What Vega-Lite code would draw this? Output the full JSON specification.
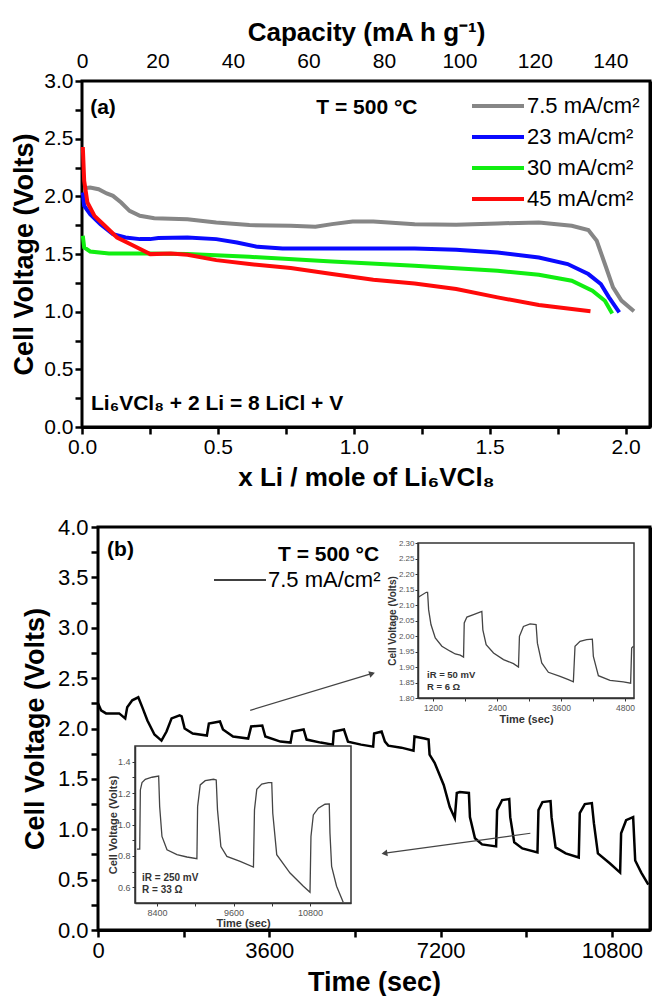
{
  "$schema": "https://vega.github.io/schema/vega-lite/v6.json",
  "padding": 0,
  "autosize": {"type": "pad"},
  "spacing": 0,
  "bounds": "flush",
  "config": {
    "view": {"strokeWidth": 0},
    "axis": {
      "grid": false,
      "zindex": 1,
      "domainColor": "#000",
      "domainWidth": 3,
      "tickColor": "#000",
      "tickWidth": 2.5,
      "labelFont": "Liberation Sans",
      "titleFont": "Liberation Sans",
      "labelColor": "black",
      "titleColor": "black",
      "titleFontWeight": "bold",
      "labelFlush": false,
      "labelOverlap": false
    }
  },
  "datasets": {
    "panelA": [
      {"x": 0.008, "v": 2.07, "rate": "7.5 mA/cm²"},
      {"x": 0.03, "v": 2.077, "rate": "7.5 mA/cm²"},
      {"x": 0.061, "v": 2.062, "rate": "7.5 mA/cm²"},
      {"x": 0.091, "v": 2.025, "rate": "7.5 mA/cm²"},
      {"x": 0.114, "v": 2.004, "rate": "7.5 mA/cm²"},
      {"x": 0.144, "v": 1.946, "rate": "7.5 mA/cm²"},
      {"x": 0.175, "v": 1.874, "rate": "7.5 mA/cm²"},
      {"x": 0.213, "v": 1.831, "rate": "7.5 mA/cm²"},
      {"x": 0.266, "v": 1.811, "rate": "7.5 mA/cm²"},
      {"x": 0.388, "v": 1.802, "rate": "7.5 mA/cm²"},
      {"x": 0.494, "v": 1.774, "rate": "7.5 mA/cm²"},
      {"x": 0.616, "v": 1.751, "rate": "7.5 mA/cm²"},
      {"x": 0.768, "v": 1.745, "rate": "7.5 mA/cm²"},
      {"x": 0.859, "v": 1.736, "rate": "7.5 mA/cm²"},
      {"x": 0.92, "v": 1.759, "rate": "7.5 mA/cm²"},
      {"x": 0.996, "v": 1.782, "rate": "7.5 mA/cm²"},
      {"x": 1.072, "v": 1.782, "rate": "7.5 mA/cm²"},
      {"x": 1.224, "v": 1.759, "rate": "7.5 mA/cm²"},
      {"x": 1.377, "v": 1.753, "rate": "7.5 mA/cm²"},
      {"x": 1.529, "v": 1.765, "rate": "7.5 mA/cm²"},
      {"x": 1.681, "v": 1.774, "rate": "7.5 mA/cm²"},
      {"x": 1.802, "v": 1.745, "rate": "7.5 mA/cm²"},
      {"x": 1.863, "v": 1.707, "rate": "7.5 mA/cm²"},
      {"x": 1.894, "v": 1.615, "rate": "7.5 mA/cm²"},
      {"x": 1.924, "v": 1.413, "rate": "7.5 mA/cm²"},
      {"x": 1.954, "v": 1.211, "rate": "7.5 mA/cm²"},
      {"x": 1.985, "v": 1.096, "rate": "7.5 mA/cm²"},
      {"x": 2.031, "v": 1.003, "rate": "7.5 mA/cm²"},
      {"x": 0.003, "v": 2.033, "rate": "23 mA/cm²"},
      {"x": 0.008, "v": 1.918, "rate": "23 mA/cm²"},
      {"x": 0.03, "v": 1.846, "rate": "23 mA/cm²"},
      {"x": 0.068, "v": 1.759, "rate": "23 mA/cm²"},
      {"x": 0.114, "v": 1.672, "rate": "23 mA/cm²"},
      {"x": 0.16, "v": 1.643, "rate": "23 mA/cm²"},
      {"x": 0.213, "v": 1.629, "rate": "23 mA/cm²"},
      {"x": 0.251, "v": 1.629, "rate": "23 mA/cm²"},
      {"x": 0.281, "v": 1.638, "rate": "23 mA/cm²"},
      {"x": 0.388, "v": 1.643, "rate": "23 mA/cm²"},
      {"x": 0.494, "v": 1.629, "rate": "23 mA/cm²"},
      {"x": 0.57, "v": 1.6, "rate": "23 mA/cm²"},
      {"x": 0.646, "v": 1.562, "rate": "23 mA/cm²"},
      {"x": 0.738, "v": 1.548, "rate": "23 mA/cm²"},
      {"x": 0.92, "v": 1.548, "rate": "23 mA/cm²"},
      {"x": 1.224, "v": 1.548, "rate": "23 mA/cm²"},
      {"x": 1.377, "v": 1.536, "rate": "23 mA/cm²"},
      {"x": 1.529, "v": 1.513, "rate": "23 mA/cm²"},
      {"x": 1.681, "v": 1.47, "rate": "23 mA/cm²"},
      {"x": 1.787, "v": 1.413, "rate": "23 mA/cm²"},
      {"x": 1.863, "v": 1.326, "rate": "23 mA/cm²"},
      {"x": 1.909, "v": 1.24, "rate": "23 mA/cm²"},
      {"x": 1.939, "v": 1.124, "rate": "23 mA/cm²"},
      {"x": 1.977, "v": 0.994, "rate": "23 mA/cm²"},
      {"x": 0.003, "v": 1.658, "rate": "30 mA/cm²"},
      {"x": 0.008, "v": 1.557, "rate": "30 mA/cm²"},
      {"x": 0.03, "v": 1.522, "rate": "30 mA/cm²"},
      {"x": 0.099, "v": 1.505, "rate": "30 mA/cm²"},
      {"x": 0.236, "v": 1.505, "rate": "30 mA/cm²"},
      {"x": 0.388, "v": 1.499, "rate": "30 mA/cm²"},
      {"x": 0.616, "v": 1.476, "rate": "30 mA/cm²"},
      {"x": 0.92, "v": 1.436, "rate": "30 mA/cm²"},
      {"x": 1.224, "v": 1.398, "rate": "30 mA/cm²"},
      {"x": 1.529, "v": 1.355, "rate": "30 mA/cm²"},
      {"x": 1.681, "v": 1.32, "rate": "30 mA/cm²"},
      {"x": 1.802, "v": 1.268, "rate": "30 mA/cm²"},
      {"x": 1.878, "v": 1.182, "rate": "30 mA/cm²"},
      {"x": 1.924, "v": 1.095, "rate": "30 mA/cm²"},
      {"x": 1.951, "v": 0.985, "rate": "30 mA/cm²"},
      {"x": 0.003, "v": 2.428, "rate": "45 mA/cm²"},
      {"x": 0.008, "v": 2.135, "rate": "45 mA/cm²"},
      {"x": 0.02, "v": 1.946, "rate": "45 mA/cm²"},
      {"x": 0.046, "v": 1.831, "rate": "45 mA/cm²"},
      {"x": 0.084, "v": 1.745, "rate": "45 mA/cm²"},
      {"x": 0.129, "v": 1.643, "rate": "45 mA/cm²"},
      {"x": 0.19, "v": 1.571, "rate": "45 mA/cm²"},
      {"x": 0.251, "v": 1.499, "rate": "45 mA/cm²"},
      {"x": 0.327, "v": 1.505, "rate": "45 mA/cm²"},
      {"x": 0.388, "v": 1.493, "rate": "45 mA/cm²"},
      {"x": 0.494, "v": 1.447, "rate": "45 mA/cm²"},
      {"x": 0.616, "v": 1.413, "rate": "45 mA/cm²"},
      {"x": 0.768, "v": 1.378, "rate": "45 mA/cm²"},
      {"x": 0.92, "v": 1.326, "rate": "45 mA/cm²"},
      {"x": 1.072, "v": 1.277, "rate": "45 mA/cm²"},
      {"x": 1.224, "v": 1.245, "rate": "45 mA/cm²"},
      {"x": 1.377, "v": 1.196, "rate": "45 mA/cm²"},
      {"x": 1.529, "v": 1.124, "rate": "45 mA/cm²"},
      {"x": 1.681, "v": 1.058, "rate": "45 mA/cm²"},
      {"x": 1.871, "v": 1.003, "rate": "45 mA/cm²"}
    ],
    "panelB": [
      {"t": 0, "v": 2.25}, {"t": 64, "v": 2.18}, {"t": 169, "v": 2.15}, {"t": 297, "v": 2.15},
      {"t": 445, "v": 2.15}, {"t": 572, "v": 2.1}, {"t": 614, "v": 2.21}, {"t": 720, "v": 2.28},
      {"t": 847, "v": 2.31}, {"t": 932, "v": 2.21}, {"t": 1038, "v": 2.08}, {"t": 1186, "v": 1.94},
      {"t": 1334, "v": 1.88}, {"t": 1440, "v": 1.97}, {"t": 1546, "v": 2.1}, {"t": 1715, "v": 2.13},
      {"t": 1758, "v": 2.12}, {"t": 1821, "v": 2.0}, {"t": 1991, "v": 1.95}, {"t": 2288, "v": 1.93},
      {"t": 2330, "v": 2.05}, {"t": 2563, "v": 2.07}, {"t": 2626, "v": 1.99}, {"t": 2838, "v": 1.92},
      {"t": 3156, "v": 1.9}, {"t": 3219, "v": 2.02}, {"t": 3452, "v": 2.03}, {"t": 3516, "v": 1.92},
      {"t": 3834, "v": 1.87}, {"t": 4046, "v": 1.86}, {"t": 4088, "v": 1.97}, {"t": 4321, "v": 1.99},
      {"t": 4384, "v": 1.89}, {"t": 4680, "v": 1.86}, {"t": 4935, "v": 1.84}, {"t": 4956, "v": 1.97},
      {"t": 5168, "v": 1.99}, {"t": 5253, "v": 1.87}, {"t": 5528, "v": 1.84}, {"t": 5782, "v": 1.82},
      {"t": 5803, "v": 1.95}, {"t": 5960, "v": 1.97}, {"t": 6030, "v": 1.87}, {"t": 6100, "v": 1.83},
      {"t": 6375, "v": 1.81}, {"t": 6630, "v": 1.78}, {"t": 6651, "v": 1.92}, {"t": 6863, "v": 1.9},
      {"t": 6947, "v": 1.89}, {"t": 6968, "v": 1.74}, {"t": 7074, "v": 1.66}, {"t": 7265, "v": 1.44},
      {"t": 7392, "v": 1.22}, {"t": 7498, "v": 1.11}, {"t": 7540, "v": 1.36}, {"t": 7604, "v": 1.37},
      {"t": 7794, "v": 1.36}, {"t": 7816, "v": 1.12}, {"t": 7922, "v": 0.91}, {"t": 8070, "v": 0.85},
      {"t": 8366, "v": 0.83}, {"t": 8387, "v": 1.19}, {"t": 8493, "v": 1.29}, {"t": 8642, "v": 1.3},
      {"t": 8663, "v": 1.12}, {"t": 8747, "v": 0.87}, {"t": 8917, "v": 0.81}, {"t": 9235, "v": 0.77},
      {"t": 9256, "v": 1.19}, {"t": 9340, "v": 1.27}, {"t": 9510, "v": 1.28}, {"t": 9531, "v": 1.12},
      {"t": 9616, "v": 0.82}, {"t": 9828, "v": 0.76}, {"t": 10103, "v": 0.72}, {"t": 10124, "v": 1.16},
      {"t": 10230, "v": 1.25}, {"t": 10378, "v": 1.26}, {"t": 10421, "v": 1.06}, {"t": 10505, "v": 0.76},
      {"t": 10760, "v": 0.66}, {"t": 10972, "v": 0.57}, {"t": 10993, "v": 0.96}, {"t": 11098, "v": 1.09},
      {"t": 11246, "v": 1.12}, {"t": 11289, "v": 0.69}, {"t": 11416, "v": 0.57}, {"t": 11565, "v": 0.45}
    ],
    "inset1": [
      {"t": 932, "v": 2.126}, {"t": 1075, "v": 2.141}, {"t": 1100, "v": 2.141}, {"t": 1119, "v": 2.085},
      {"t": 1163, "v": 2.037}, {"t": 1244, "v": 1.994}, {"t": 1368, "v": 1.967}, {"t": 1524, "v": 1.951},
      {"t": 1618, "v": 1.942}, {"t": 1712, "v": 1.938}, {"t": 1774, "v": 1.932}, {"t": 1787, "v": 2.042},
      {"t": 1837, "v": 2.061}, {"t": 1961, "v": 2.069}, {"t": 2117, "v": 2.079}, {"t": 2136, "v": 2.02},
      {"t": 2198, "v": 1.972}, {"t": 2336, "v": 1.945}, {"t": 2523, "v": 1.924}, {"t": 2710, "v": 1.911},
      {"t": 2804, "v": 1.9}, {"t": 2822, "v": 1.999}, {"t": 2897, "v": 2.031}, {"t": 3022, "v": 2.039},
      {"t": 3134, "v": 2.037}, {"t": 3159, "v": 1.977}, {"t": 3240, "v": 1.913}, {"t": 3365, "v": 1.883},
      {"t": 3584, "v": 1.87}, {"t": 3740, "v": 1.859}, {"t": 3833, "v": 1.852}, {"t": 3864, "v": 1.967},
      {"t": 3958, "v": 1.983}, {"t": 4083, "v": 1.988}, {"t": 4189, "v": 1.99}, {"t": 4208, "v": 1.934},
      {"t": 4302, "v": 1.872}, {"t": 4520, "v": 1.857}, {"t": 4770, "v": 1.852}, {"t": 4907, "v": 1.848},
      {"t": 4926, "v": 1.961}, {"t": 4960, "v": 1.967}
    ],
    "inset2": [
      {"t": 8087, "v": 0.843}, {"t": 8129, "v": 0.843}, {"t": 8139, "v": 1.22}, {"t": 8165, "v": 1.267},
      {"t": 8217, "v": 1.288}, {"t": 8322, "v": 1.301}, {"t": 8426, "v": 1.309}, {"t": 8442, "v": 1.114},
      {"t": 8478, "v": 0.924}, {"t": 8557, "v": 0.839}, {"t": 8713, "v": 0.808}, {"t": 8870, "v": 0.793},
      {"t": 9026, "v": 0.782}, {"t": 9037, "v": 1.114}, {"t": 9078, "v": 1.252}, {"t": 9156, "v": 1.279},
      {"t": 9287, "v": 1.288}, {"t": 9329, "v": 1.284}, {"t": 9349, "v": 1.093}, {"t": 9402, "v": 0.86},
      {"t": 9496, "v": 0.797}, {"t": 9704, "v": 0.765}, {"t": 9913, "v": 0.729}, {"t": 9929, "v": 1.093},
      {"t": 9965, "v": 1.224}, {"t": 10043, "v": 1.258}, {"t": 10148, "v": 1.267}, {"t": 10200, "v": 1.267},
      {"t": 10216, "v": 1.072}, {"t": 10278, "v": 0.808}, {"t": 10487, "v": 0.691}, {"t": 10696, "v": 0.607},
      {"t": 10800, "v": 0.568}, {"t": 10815, "v": 0.924}, {"t": 10852, "v": 1.061}, {"t": 10930, "v": 1.104},
      {"t": 11035, "v": 1.129}, {"t": 11102, "v": 1.131}, {"t": 11113, "v": 0.945}, {"t": 11139, "v": 0.733},
      {"t": 11217, "v": 0.607}, {"t": 11321, "v": 0.505}
    ],
    "hostA": [{"cap": 0, "v": 0}, {"cap": 150.5, "v": 3}],
    "hostB": [{"t": 0, "v": 0}, {"t": 11600, "v": 4}]
  },
  "vconcat": [
    {
      "width": 652,
      "height": 996,
      "resolve": {
        "scale": {"x": "independent", "y": "independent", "color": "independent"},
        "axis": {"x": "independent", "y": "independent"},
        "legend": {"color": "independent"}
      },
      "layer": [
        {
          "data": {"values": [{"x": 0, "v": 0, "x2": 2.09, "v2": 3}]},
          "mark": {"type": "rect", "fill": "white", "stroke": "#000", "strokeWidth": 3},
          "encoding": {
            "x": {"field": "x", "type": "quantitative", "scale": {"domain": [0, 2.09], "range": [82, 650], "nice": false, "zero": false}, "axis": null},
            "x2": {"field": "x2"},
            "y": {"field": "v", "type": "quantitative", "scale": {"domain": [0, 3], "range": [427, 81], "nice": false, "zero": false}, "axis": null},
            "y2": {"field": "v2"}
          }
        },
        {
          "data": {"values": [{"t": 0, "v": 0, "t2": 11600, "v2": 4}]},
          "mark": {"type": "rect", "fill": "white", "stroke": "#000", "strokeWidth": 3},
          "encoding": {
            "x": {"field": "t", "type": "quantitative", "scale": {"domain": [0, 11600], "range": [98, 650], "nice": false, "zero": false}, "axis": null},
            "x2": {"field": "t2"},
            "y": {"field": "v", "type": "quantitative", "scale": {"domain": [0, 4], "range": [930, 527], "nice": false, "zero": false}, "axis": null},
            "y2": {"field": "v2"}
          }
        },
        {
          "data": {"name": "panelA"},
          "mark": {"type": "line", "strokeWidth": 4},
          "encoding": {
            "x": {
              "field": "x", "type": "quantitative",
              "scale": {"domain": [0, 2.09], "range": [82, 650], "nice": false, "zero": false},
              "axis": {
                "orient": "bottom", "offset": -569,
                "values": [0, 0.25, 0.5, 0.75, 1, 1.25, 1.5, 1.75, 2],
                "labelExpr": "datum.value % 0.5 === 0 ? format(datum.value, '.1f') : ''",
                "tickSize": 7,
                "labelFontSize": 21, "labelPadding": 2,
                "title": "x Li / mole of Li₆VCl₈", "titleFontSize": 26,
                "titleX": 366, "titleY": 50, "titleAlign": "center", "titleBaseline": "middle"
              }
            },
            "y": {
              "field": "v", "type": "quantitative",
              "scale": {"domain": [0, 3], "range": [427, 81], "nice": false, "zero": false},
              "axis": {
                "orient": "left", "offset": -82,
                "values": [0, 0.25, 0.5, 0.75, 1, 1.25, 1.5, 1.75, 2, 2.25, 2.5, 2.75, 3],
                "labelExpr": "datum.value % 0.5 === 0 ? format(datum.value, '.1f') : ''",
                "tickSize": 7,
                "labelFontSize": 21, "labelPadding": 2,
                "title": "Cell Voltage (Volts)", "titleFontSize": 27, "titleAngle": 270,
                "titleX": -58, "titleY": 254, "titleAlign": "center", "titleBaseline": "middle"
              }
            },
            "color": {
              "field": "rate", "type": "nominal",
              "scale": {"domain": ["7.5 mA/cm²", "23 mA/cm²", "30 mA/cm²", "45 mA/cm²"], "range": ["#868686", "#0a0aff", "#11ee11", "#ff0a0a"]},
              "legend": {
                "orient": "none", "legendX": 486, "legendY": 94, "title": null, "padding": 0,
                "symbolType": "M-2.6,0H2.6", "symbolSize": 400, "symbolStrokeWidth": 4,
                "labelFont": "Liberation Sans", "labelFontSize": 22, "labelColor": "black",
                "labelOffset": 17, "rowPadding": 8
              }
            }
          }
        },
        {
          "data": {"name": "hostA"},
          "mark": {"type": "point", "opacity": 0},
          "encoding": {
            "x": {
              "field": "cap", "type": "quantitative",
              "scale": {"domain": [0, 150.5], "range": [82, 650], "nice": false, "zero": false},
              "axis": {
                "orient": "bottom", "offset": -915,
                "values": [10, 20, 30, 40, 50, 60, 70, 80, 90, 100, 110, 120, 130, 140],
                "labels": false, "title": null, "tickSize": 6
              }
            },
            "y": {
              "field": "v", "type": "quantitative",
              "scale": {"domain": [0, 3], "range": [427, 81], "nice": false, "zero": false},
              "axis": {
                "orient": "left", "offset": -650,
                "values": [0.3, 0.6, 0.9, 1.2, 1.5, 1.8, 2.1, 2.4, 2.7],
                "labels": false, "title": null, "tickSize": 6
              }
            }
          }
        },
        {
          "data": {"name": "hostA"},
          "mark": {"type": "point", "opacity": 0},
          "encoding": {
            "x": {
              "field": "cap", "type": "quantitative",
              "scale": {"domain": [0, 150.5], "range": [82, 650], "nice": false, "zero": false},
              "axis": {
                "orient": "top", "offset": -81,
                "values": [0, 20, 40, 60, 80, 100, 120, 140],
                "ticks": false, "domain": false, "labelFontSize": 21, "labelPadding": 10,
                "title": "Capacity (mA h g⁻¹)", "titleFontSize": 26,
                "titleX": 366, "titleY": -49, "titleAlign": "center", "titleBaseline": "middle"
              }
            }
          }
        },
        {
          "data": {"values": [
            {"x": 0.03, "v": 2.77, "label": "(a)"},
            {"x": 0.862, "v": 2.77, "label": "T = 500 °C"},
            {"x": 0.033, "v": 0.2, "label": "Li₆VCl₈ + 2 Li = 8 LiCl + V"}
          ]},
          "mark": {"type": "text", "align": "left", "baseline": "middle", "fontSize": 21, "fontWeight": "bold", "color": "black", "font": "Liberation Sans"},
          "encoding": {
            "x": {"field": "x", "type": "quantitative", "scale": {"domain": [0, 2.09], "range": [82, 650], "nice": false, "zero": false}, "axis": null},
            "y": {"field": "v", "type": "quantitative", "scale": {"domain": [0, 3], "range": [427, 81], "nice": false, "zero": false}, "axis": null},
            "text": {"field": "label"}
          }
        },
        {
          "data": {"name": "panelB"},
          "mark": {"type": "line", "strokeWidth": 2.5},
          "encoding": {
            "x": {
              "field": "t", "type": "quantitative",
              "scale": {"domain": [0, 11600], "range": [98, 650], "nice": false, "zero": false},
              "axis": {
                "orient": "bottom", "offset": -66,
                "values": [0, 1800, 3600, 5400, 7200, 9000, 10800],
                "labelExpr": "datum.value % 3600 === 0 ? format(datum.value, 'd') : ''",
                "tickSize": 7,
                "labelFontSize": 22, "labelPadding": 3,
                "title": "Time (sec)", "titleFontSize": 27,
                "titleX": 374, "titleY": 52, "titleAlign": "center", "titleBaseline": "middle"
              }
            },
            "y": {
              "field": "v", "type": "quantitative",
              "scale": {"domain": [0, 4], "range": [930, 527], "nice": false, "zero": false},
              "axis": {
                "orient": "left", "offset": -98,
                "values": [0, 0.25, 0.5, 0.75, 1, 1.25, 1.5, 1.75, 2, 2.25, 2.5, 2.75, 3, 3.25, 3.5, 3.75, 4],
                "labelExpr": "datum.value % 0.5 === 0 ? format(datum.value, '.1f') : ''",
                "tickSize": 7,
                "labelFontSize": 22, "labelPadding": 3,
                "title": "Cell Voltage (Volts)", "titleFontSize": 27, "titleAngle": 270,
                "titleX": -63, "titleY": 728.5, "titleAlign": "center", "titleBaseline": "middle"
              }
            },
            "color": {
              "datum": "7.5 mA/cm²", "type": "nominal",
              "scale": {"domain": ["7.5 mA/cm²"], "range": ["black"]},
              "legend": {
                "orient": "none", "legendX": 229, "legendY": 569, "title": null, "padding": 0,
                "symbolType": "M-2.6,0H2.6", "symbolSize": 400, "symbolStrokeWidth": 1.5,
                "labelFont": "Liberation Sans", "labelFontSize": 22, "labelColor": "black",
                "labelOffset": 17
              }
            }
          }
        },
        {
          "data": {"name": "hostB"},
          "mark": {"type": "point", "opacity": 0},
          "encoding": {
            "x": {
              "field": "t", "type": "quantitative",
              "scale": {"domain": [0, 11600], "range": [98, 650], "nice": false, "zero": false},
              "axis": {
                "orient": "bottom", "offset": -469,
                "values": [1160, 2320, 3480, 4640, 5800, 6960, 8120, 9280, 10440],
                "labels": false, "title": null, "tickSize": 6
              }
            },
            "y": {
              "field": "v", "type": "quantitative",
              "scale": {"domain": [0, 4], "range": [930, 527], "nice": false, "zero": false},
              "axis": {
                "orient": "left", "offset": -650,
                "values": [0.4, 0.8, 1.2, 1.6, 2.0, 2.4, 2.8, 3.2, 3.6],
                "labels": false, "title": null, "tickSize": 6
              }
            }
          }
        },
        {
          "data": {"values": [
            {"t": 191, "v": 3.77, "label": "(b)"},
            {"t": 3782, "v": 3.72, "label": "T = 500 °C"}
          ]},
          "mark": {"type": "text", "align": "left", "baseline": "middle", "fontSize": 21, "fontWeight": "bold", "color": "black", "font": "Liberation Sans"},
          "encoding": {
            "x": {"field": "t", "type": "quantitative", "scale": {"domain": [0, 11600], "range": [98, 650], "nice": false, "zero": false}, "axis": null},
            "y": {"field": "v", "type": "quantitative", "scale": {"domain": [0, 4], "range": [930, 527], "nice": false, "zero": false}, "axis": null},
            "text": {"field": "label"}
          }
        },
        {
          "data": {"values": [
            {"t": 3198, "v": 2.18, "t2": 5782, "v2": 2.55},
            {"t": 9086, "v": 0.96, "t2": 5994, "v2": 0.76}
          ]},
          "mark": {"type": "rule", "color": "#444", "strokeWidth": 1.2},
          "encoding": {
            "x": {"field": "t", "type": "quantitative", "scale": {"domain": [0, 11600], "range": [98, 650], "nice": false, "zero": false}, "axis": null},
            "y": {"field": "v", "type": "quantitative", "scale": {"domain": [0, 4], "range": [930, 527], "nice": false, "zero": false}, "axis": null},
            "x2": {"field": "t2"},
            "y2": {"field": "v2"}
          }
        },
        {
          "data": {"values": [{"t": 5760, "v": 2.545}]},
          "mark": {"type": "point", "shape": "triangle-right", "filled": true, "color": "#444", "size": 45, "angle": 343, "opacity": 1},
          "encoding": {
            "x": {"field": "t", "type": "quantitative", "scale": {"domain": [0, 11600], "range": [98, 650], "nice": false, "zero": false}, "axis": null},
            "y": {"field": "v", "type": "quantitative", "scale": {"domain": [0, 4], "range": [930, 527], "nice": false, "zero": false}, "axis": null}
          }
        },
        {
          "data": {"values": [{"t": 6020, "v": 0.762}]},
          "mark": {"type": "point", "shape": "triangle-right", "filled": true, "color": "#444", "size": 45, "angle": 172, "opacity": 1},
          "encoding": {
            "x": {"field": "t", "type": "quantitative", "scale": {"domain": [0, 11600], "range": [98, 650], "nice": false, "zero": false}, "axis": null},
            "y": {"field": "v", "type": "quantitative", "scale": {"domain": [0, 4], "range": [930, 527], "nice": false, "zero": false}, "axis": null}
          }
        },
        {
          "data": {"values": [{"t": 920, "v": 1.8, "t2": 4970, "v2": 2.3}]},
          "mark": {"type": "rect", "fill": "white", "stroke": "#333", "strokeWidth": 1.5},
          "encoding": {
            "x": {
              "field": "t", "type": "quantitative",
              "scale": {"domain": [920, 4970], "range": [418, 634], "nice": false, "zero": false},
              "axis": {
                "orient": "bottom", "offset": -298, "zindex": 1,
                "values": [1200, 1800, 2400, 3000, 3600, 4200, 4800],
                "labelExpr": "datum.value % 1200 === 0 ? format(datum.value, 'd') : ''",
                "tickSize": 3,
                "tickWidth": 1, "tickColor": "#333", "domainWidth": 1.5, "domainColor": "#333",
                "labelFontSize": 8.5, "labelColor": "#555", "labelPadding": 2,
                "title": "Time (sec)", "titleFontSize": 11, "titleColor": "#333",
                "titleX": 526, "titleY": 21, "titleAlign": "center", "titleBaseline": "middle"
              }
            },
            "x2": {"field": "t2"},
            "y": {
              "field": "v", "type": "quantitative",
              "scale": {"domain": [1.8, 2.3], "range": [698, 543], "nice": false, "zero": false},
              "axis": {
                "orient": "left", "offset": -418, "zindex": 1,
                "values": [1.8, 1.85, 1.9, 1.95, 2.0, 2.05, 2.1, 2.15, 2.2, 2.25, 2.3],
                "labelExpr": "format(datum.value, '.2f')",
                "tickSize": 3, "tickWidth": 1, "tickColor": "#333", "domainWidth": 1.5, "domainColor": "#333",
                "labelFontSize": 8, "labelColor": "#555", "labelPadding": 1,
                "title": "Cell Voltage (Volts)", "titleFontSize": 10, "titleColor": "#333", "titleAngle": 270,
                "titleX": -26, "titleY": 620.5, "titleAlign": "center", "titleBaseline": "middle"
              }
            },
            "y2": {"field": "v2"}
          }
        },
        {
          "data": {"name": "inset1"},
          "mark": {"type": "line", "color": "#444", "strokeWidth": 1.3},
          "encoding": {
            "x": {"field": "t", "type": "quantitative", "scale": {"domain": [920, 4970], "range": [418, 634], "nice": false, "zero": false}, "axis": null},
            "y": {"field": "v", "type": "quantitative", "scale": {"domain": [1.8, 2.3], "range": [698, 543], "nice": false, "zero": false}, "axis": null}
          }
        },
        {
          "data": {"values": [
            {"t": 1089, "v": 1.874, "label": "iR = 50 mV"},
            {"t": 1089, "v": 1.835, "label": "R = 6 Ω"}
          ]},
          "mark": {"type": "text", "align": "left", "baseline": "middle", "fontSize": 9.5, "fontWeight": "bold", "color": "#333", "font": "Liberation Sans"},
          "encoding": {
            "x": {"field": "t", "type": "quantitative", "scale": {"domain": [920, 4970], "range": [418, 634], "nice": false, "zero": false}, "axis": null},
            "y": {"field": "v", "type": "quantitative", "scale": {"domain": [1.8, 2.3], "range": [698, 543], "nice": false, "zero": false}, "axis": null},
            "text": {"field": "label"}
          }
        },
        {
          "data": {"values": [{"t": 8055, "v": 0.5, "t2": 11443, "v2": 1.5}]},
          "mark": {"type": "rect", "fill": "white", "stroke": "#333", "strokeWidth": 1.5},
          "encoding": {
            "x": {
              "field": "t", "type": "quantitative",
              "scale": {"domain": [8055, 11443], "range": [135, 351], "nice": false, "zero": false},
              "axis": {
                "orient": "bottom", "offset": -93, "zindex": 1,
                "values": [8400, 9000, 9600, 10200, 10800],
                "labelExpr": "datum.value % 1200 === 0 ? format(datum.value, 'd') : ''",
                "tickSize": 3,
                "tickWidth": 1, "tickColor": "#333", "domainWidth": 1.5, "domainColor": "#333",
                "labelFontSize": 9, "labelColor": "#555", "labelPadding": 2,
                "title": "Time (sec)", "titleFontSize": 11, "titleColor": "#333",
                "titleX": 243, "titleY": 20, "titleAlign": "center", "titleBaseline": "middle"
              }
            },
            "x2": {"field": "t2"},
            "y": {
              "field": "v", "type": "quantitative",
              "scale": {"domain": [0.5, 1.5], "range": [903, 746], "nice": false, "zero": false},
              "axis": {
                "orient": "left", "offset": -135, "zindex": 1,
                "values": [0.6, 0.7, 0.8, 0.9, 1.0, 1.1, 1.2, 1.3, 1.4],
                "labelExpr": "round(datum.value * 10) % 2 === 0 ? format(datum.value, '.1f') : ''",
                "tickSize": 3,
                "tickWidth": 1, "tickColor": "#333", "domainWidth": 1.5, "domainColor": "#333",
                "labelFontSize": 9, "labelColor": "#555", "labelPadding": 2,
                "title": "Cell Voltage (Volts)", "titleFontSize": 11, "titleColor": "#333", "titleAngle": 270,
                "titleX": -22, "titleY": 824.5, "titleAlign": "center", "titleBaseline": "middle"
              }
            },
            "y2": {"field": "v2"}
          }
        },
        {
          "data": {"name": "inset2"},
          "mark": {"type": "line", "color": "#444", "strokeWidth": 1.3},
          "encoding": {
            "x": {"field": "t", "type": "quantitative", "scale": {"domain": [8055, 11443], "range": [135, 351], "nice": false, "zero": false}, "axis": null},
            "y": {"field": "v", "type": "quantitative", "scale": {"domain": [0.5, 1.5], "range": [903, 746], "nice": false, "zero": false}, "axis": null}
          }
        },
        {
          "data": {"values": [
            {"t": 8165, "v": 0.659, "label": "iR = 250 mV"},
            {"t": 8165, "v": 0.583, "label": "R = 33 Ω"}
          ]},
          "mark": {"type": "text", "align": "left", "baseline": "middle", "fontSize": 10, "fontWeight": "bold", "color": "#333", "font": "Liberation Sans"},
          "encoding": {
            "x": {"field": "t", "type": "quantitative", "scale": {"domain": [8055, 11443], "range": [135, 351], "nice": false, "zero": false}, "axis": null},
            "y": {"field": "v", "type": "quantitative", "scale": {"domain": [0.5, 1.5], "range": [903, 746], "nice": false, "zero": false}, "axis": null},
            "text": {"field": "label"}
          }
        }
      ]
    }
  ]
}
